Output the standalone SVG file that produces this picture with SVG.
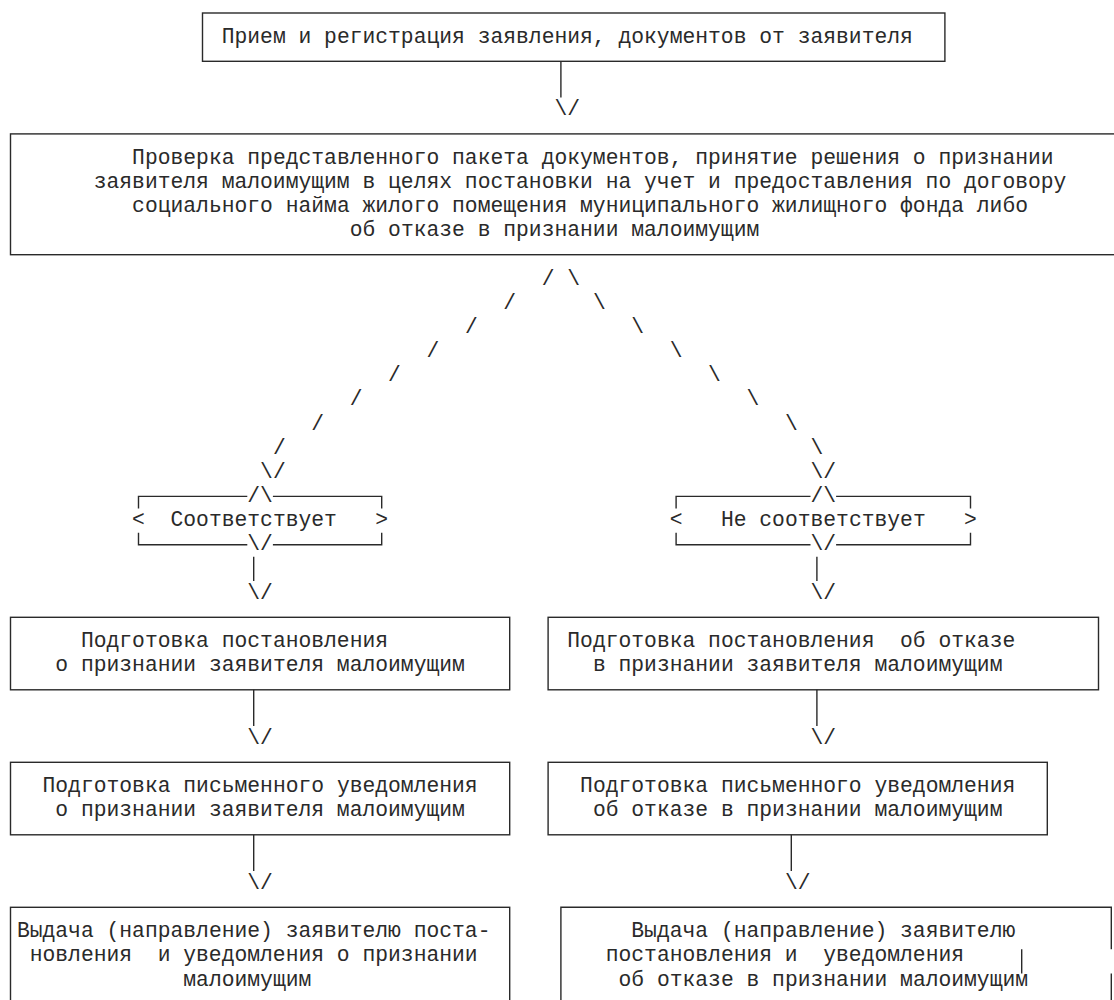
<svg xmlns="http://www.w3.org/2000/svg" width="1114" height="1000" viewBox="0 0 1114 1000" xml:space="preserve">
<style>
text{font-family:"Liberation Mono","Courier New","DejaVu Sans Mono",monospace;font-size:21.333px;fill:#2a2a2a;white-space:pre}
.b{fill:none;stroke:#2a2a2a;stroke-width:1.4}
.c{fill:none;stroke:#2a2a2a;stroke-width:1.4}
</style>
<rect width="1114" height="1000" fill="#ffffff"/>
<g id="n1">
<rect class="b" x="202.5" y="13" width="742.4" height="48.3"/>
<text x="221.7" y="42.9">Прием и регистрация заявления, документов от заявителя</text>
</g>
<g id="n2">
<rect class="b" x="10.5" y="133.9" width="1130" height="120.8"/>
<text x="132.1" y="163.7">Проверка представленного пакета документов, принятие решения о признании</text>
<text x="93.7" y="187.9">заявителя малоимущим в целях постановки на учет и предоставления по договору</text>
<text x="132.1" y="212.1">социального найма жилого помещения муниципального жилищного фонда либо</text>
<text x="349.7" y="236.2">об отказе в признании малоимущим</text>
</g>
<g id="d1">
<path class="b" d="M138.5,508.5V496.4H247.3M272.9,496.4H381.7V508.5"/>
<path class="b" d="M138.5,532.7V544.7H247.3M272.9,544.7H381.7V532.7"/>
<text x="247.3" y="502.1">/\</text>
<text x="247.3" y="550.4">\/</text>
<text x="132.1" y="526.3">&lt;</text>
<text x="170.5" y="526.3">Соответствует</text>
<text x="375.3" y="526.3">&gt;</text>
</g>
<g id="d2">
<path class="b" d="M676.1,508.5V496.4H810.5M836.1,496.4H970.5V508.5"/>
<path class="b" d="M676.1,532.7V544.7H810.5M836.1,544.7H970.5V532.7"/>
<text x="810.5" y="502.1">/\</text>
<text x="810.5" y="550.4">\/</text>
<text x="669.7" y="526.3">&lt;</text>
<text x="720.9" y="526.3">Не соответствует</text>
<text x="964.1" y="526.3">&gt;</text>
</g>
<g id="a1">
<rect class="b" x="10.5" y="617.3" width="499.2" height="72.5"/>
<text x="80.9" y="647.1">Подготовка постановления</text>
<text x="55.3" y="671.3">о признании заявителя малоимущим</text>
</g>
<g id="a2">
<rect class="b" x="548.1" y="617.3" width="550.4" height="72.5"/>
<text x="567.3" y="647.1">Подготовка постановления  об отказе</text>
<text x="592.9" y="671.3">в признании заявителя малоимущим</text>
</g>
<g id="b1">
<rect class="b" x="10.5" y="762.3" width="499.2" height="72.5"/>
<text x="42.5" y="792.1">Подготовка письменного уведомления</text>
<text x="55.3" y="816.3">о признании заявителя малоимущим</text>
</g>
<g id="b2">
<rect class="b" x="548.1" y="762.3" width="499.2" height="72.5"/>
<text x="580.1" y="792.1">Подготовка письменного уведомления</text>
<text x="592.9" y="816.3">об отказе в признании малоимущим</text>
</g>
<g id="c1">
<rect class="b" x="10.5" y="907.3" width="499.2" height="100"/>
<text x="16.9" y="937.1">Выдача (направление) заявителю поста-</text>
<text x="29.7" y="961.3">новления  и уведомления о признании</text>
<text x="183.3" y="985.5">малоимущим</text>
</g>
<g id="c2">
<path class="b" d="M560.9,1010V907.3H1111.3V949.2M1111.3,973.4V1010M1021.7,949.2V973.4"/>
<text x="631.3" y="937.1">Выдача (направление) заявителю</text>
<text x="605.7" y="961.3">постановления и  уведомления</text>
<text x="618.5" y="985.5">об отказе в признании малоимущим</text>
</g>
<g id="connectors">
<path class="c" d="M560.9,61.3V97.6M253.7,556.8V581M816.9,556.8V581M253.7,689.8V726M816.9,689.8V726M253.7,834.8V871M791.3,834.8V871"/>
<text x="554.5" y="115.4">\/</text>
<text x="541.7" y="284.6">/</text><text x="567.3" y="284.6">\</text>
<text x="503.3" y="308.7">/</text><text x="592.9" y="308.7">\</text>
<text x="464.9" y="332.9">/</text><text x="631.3" y="332.9">\</text>
<text x="426.5" y="357.1">/</text><text x="669.7" y="357.1">\</text>
<text x="388.1" y="381.3">/</text><text x="708.1" y="381.3">\</text>
<text x="349.7" y="405.4">/</text><text x="746.5" y="405.4">\</text>
<text x="311.3" y="429.6">/</text><text x="784.9" y="429.6">\</text>
<text x="272.9" y="453.8">/</text><text x="810.5" y="453.8">\</text>
<text x="260.1" y="478">\/</text><text x="810.5" y="478">\/</text>
<text x="247.3" y="598.8">\/</text><text x="810.5" y="598.8">\/</text>
<text x="247.3" y="743.8">\/</text><text x="810.5" y="743.8">\/</text>
<text x="247.3" y="888.8">\/</text><text x="784.9" y="888.8">\/</text>
</g>
</svg>
